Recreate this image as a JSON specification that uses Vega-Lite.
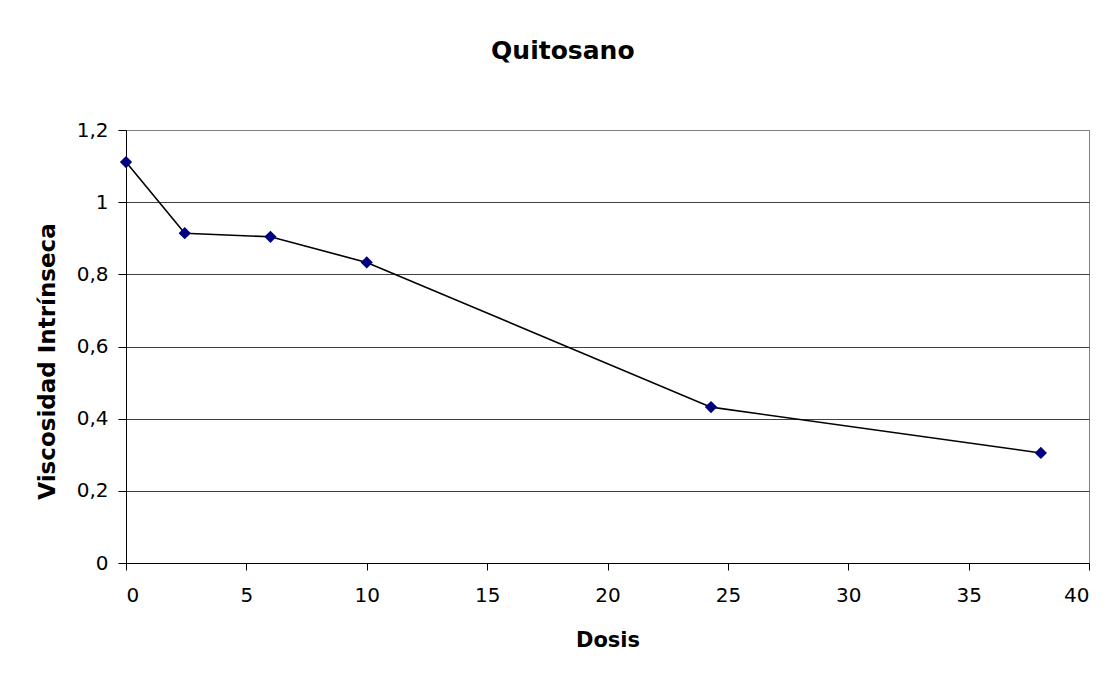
{
  "$schema": "https://vega.github.io/schema/vega-lite/v6.json",
  "width": 963,
  "height": 433,
  "autosize": {"type": "none"},
  "padding": {"left": 126, "top": 130, "right": 30, "bottom": 111},
  "background": "white",
  "title": {"text": "Quitosano", "font": "DejaVu Sans", "fontSize": 25, "fontWeight": "bold", "color": "black", "anchor": "middle", "frame": "bounds", "offset": 56},
  "data": {"values": [
    {"dosis": 0, "viscosidad": 1.111},
    {"dosis": 2.44, "viscosidad": 0.914},
    {"dosis": 6.0, "viscosidad": 0.904},
    {"dosis": 10.0, "viscosidad": 0.833},
    {"dosis": 24.3, "viscosidad": 0.432},
    {"dosis": 38.0, "viscosidad": 0.305}
  ]},
  "config": {
    "view": {"stroke": "#808080", "strokeWidth": 1},
    "font": "DejaVu Sans"
  },
  "encoding": {
    "x": {"field": "dosis", "type": "quantitative", "scale": {"domain": [0, 40], "nice": false},
      "axis": {"title": "Dosis", "values": [0,5,10,15,20,25,30,35,40], "grid": false, "domainColor": "black", "tickColor": "black", "tickSize": 7, "labelFontSize": 20, "labelColor": "black", "labelPadding": 15, "titleFontSize": 21, "titleFontWeight": "bold", "titleColor": "black", "titlePadding": 24, "labelFont": "DejaVu Sans", "titleFont": "DejaVu Sans"}},
    "y": {"field": "viscosidad", "type": "quantitative", "scale": {"domain": [0, 1.2], "nice": false},
      "axis": {"title": "Viscosidad Intrínseca", "values": [0,0.2,0.4,0.6,0.8,1,1.2], "labelExpr": "replace(format(datum.value, ''), '.', ',')", "grid": true, "gridColor": {"condition": {"test": "datum.value >= 1.19", "value": "#808080"}, "value": "#404040"}, "gridWidth": 1, "domainColor": "black", "tickColor": "black", "tickSize": 8, "labelFontSize": 20, "labelColor": "black", "labelPadding": 10, "titleFontSize": 23, "titleFontWeight": "bold", "titleColor": "black", "titlePadding": 17, "titleY": 231, "labelFont": "DejaVu Sans", "titleFont": "DejaVu Sans"}}
  },
  "layer": [
    {"mark": {"type": "line", "color": "black", "strokeWidth": 1.6}},
    {"mark": {"type": "point", "shape": "diamond", "filled": true, "color": "#000080", "opacity": 1, "size": 150}}
  ]
}
